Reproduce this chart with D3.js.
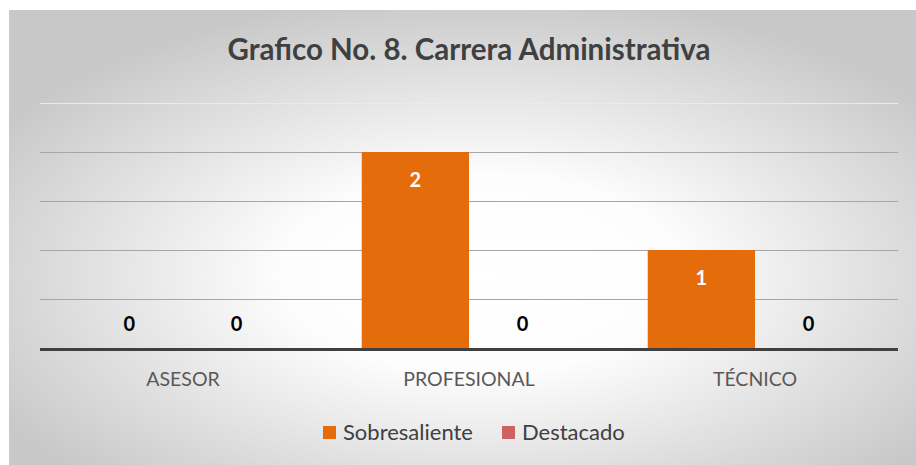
<html>
<head>
<meta charset="UTF-8">
<title>Carrera Administrativa</title>
<style>
    body { margin: 0; background: #ffffff; }
    svg { font-family: Lato, "Open Sans", sans-serif; }
</style>
</head>
<body>
<svg id="chart" width="916" height="465"></svg>
<script src="https://d3js.org/d3.v7.min.js"></script>
<script>
    var categories = ["ASESOR", "PROFESIONAL", "TÉCNICO"];
    var seriesNames = ["Sobresaliente", "Destacado"];
    var sobresaliente = [0, 2, 1];
    var destacado = [0, 0, 0];
    var gridTicks = [0.5, 1, 1.5, 2, 2.5];

    var colors = ["#e46c0a", "#cd6262"];
    var title = "Grafico No. 8. Carrera Administrativa";

    var svg = d3.select("#chart");
    var W = 916, H = 465;

    // radial background
    var defs = svg.append("defs");
    var grad = defs.append("radialGradient")
        .attr("id", "bg")
        .attr("cx", "52%").attr("cy", "58%").attr("r", "62%");
    grad.append("stop").attr("offset", "0%").attr("stop-color", "#ffffff");
    grad.append("stop").attr("offset", "35%").attr("stop-color", "#fdfdfd");
    grad.append("stop").attr("offset", "100%").attr("stop-color", "#c8c8c8");

    svg.append("rect")
        .attr("x", 9).attr("y", 10)
        .attr("width", W - 9).attr("height", H - 10)
        .attr("fill", "url(#bg)");

    var margin = {left: 40, right: 18, top: 103, bottom: 117};
    var x0 = d3.scaleBand()
        .domain(categories)
        .range([margin.left, W - margin.right])
        .paddingInner(0.25)
        .paddingOuter(0.125);
    var x1 = d3.scaleBand()
        .domain(seriesNames)
        .range([0, x0.bandwidth()]);
    var y = d3.scaleLinear()
        .domain([0, 2.5])
        .range([348, 103]);

    // gridlines
    svg.append("g")
        .selectAll("line")
        .data(gridTicks)
        .enter().append("line")
        .attr("x1", margin.left)
        .attr("x2", W - margin.right)
        .attr("y1", function(d) { return Math.round(y(d)) + 0.5; })
        .attr("y2", function(d) { return Math.round(y(d)) + 0.5; })
        .attr("stroke", function(d) { return d === 2.5 ? "#ebebeb" : "#a6a6a6"; })
        .attr("stroke-width", 1);

    var rows = categories.map(function(c, i) {
        return {cat: c, values: [sobresaliente[i], destacado[i]]};
    });

    var groups = svg.append("g")
        .selectAll("g")
        .data(rows)
        .enter().append("g")
        .attr("transform", function(d) { return "translate(" + x0(d.cat) + ",0)"; });

    var cells = groups.selectAll("g")
        .data(function(d) {
            return d.values.map(function(v, j) { return {name: seriesNames[j], value: v, j: j}; });
        })
        .enter().append("g");

    cells.append("rect")
        .attr("x", function(d) { return x1(d.name); })
        .attr("y", function(d) { return y(d.value); })
        .attr("width", x1.bandwidth())
        .attr("height", function(d) { return y(0) - y(d.value); })
        .attr("fill", function(d) { return colors[d.j]; });

    cells.append("text")
        .attr("x", function(d) { return x1(d.name) + x1.bandwidth() / 2; })
        .attr("y", function(d) { return d.value > 0 ? y(d.value) + 35 : y(0) - 17; })
        .attr("text-anchor", "middle")
        .attr("font-size", 20)
        .attr("font-weight", "bold")
        .attr("fill", function(d) { return d.value > 0 ? "#ffffff" : "#000000"; })
        .text(function(d) { return d.value; });

    // axis line
    svg.append("line")
        .attr("x1", margin.left).attr("x2", W - margin.right)
        .attr("y1", y(0) + 1.5).attr("y2", y(0) + 1.5)
        .attr("stroke", "#404040")
        .attr("stroke-width", 3);

    // category labels
    var xAxis = svg.append("g")
        .attr("transform", "translate(0," + (y(0) + 2) + ")")
        .call(d3.axisBottom(x0).tickSize(0).tickPadding(22));
    xAxis.select(".domain").remove();
    xAxis.selectAll("text")
        .attr("font-family", "Lato, 'Open Sans', sans-serif")
        .attr("font-size", 19.5)
        .attr("fill", "#595959");

    // title
    svg.append("text")
        .attr("x", 469).attr("y", 60)
        .attr("text-anchor", "middle")
        .attr("font-size", 29.5)
        .attr("font-weight", "bold")
        .attr("fill", "#404040")
        .text(title);

    // legend
    var legendX = [323, 502];
    var legend = svg.append("g")
        .selectAll("g")
        .data(seriesNames)
        .enter().append("g")
        .attr("transform", function(d, i) { return "translate(" + legendX[i] + ",426)"; });
    legend.append("rect")
        .attr("width", 13).attr("height", 13)
        .attr("fill", function(d, i) { return colors[i]; });
    legend.append("text")
        .attr("x", 20).attr("y", 14)
        .attr("font-size", 22)
        .attr("fill", "#404040")
        .text(function(d) { return d; });
</script>
</body>
</html>
